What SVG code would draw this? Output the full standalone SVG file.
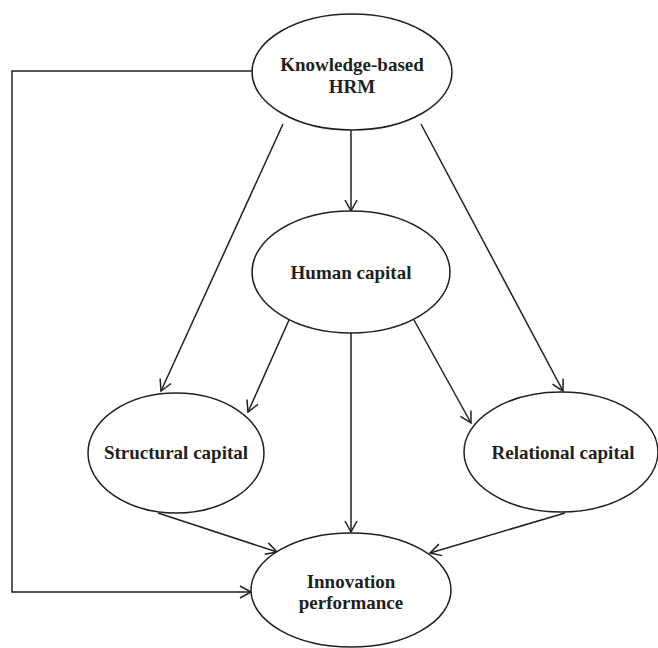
<svg xmlns="http://www.w3.org/2000/svg" width="658" height="648" viewBox="0 0 658 648">
<style>
.node ellipse{fill:#fff;stroke:#231f20;stroke-width:1.5}
.node text{font-family:"Liberation Serif","Times New Roman",serif;font-weight:bold;font-size:19px;fill:#231f20;text-anchor:middle}
.edges path,.edges line{fill:none;stroke:#231f20;stroke-width:1.5}
</style>
<defs>
<marker id="arr" viewBox="0 0 14 14" refX="12" refY="7" markerWidth="14" markerHeight="14" markerUnits="userSpaceOnUse" orient="auto">
<path d="M1,1 L12,7 L1,13" fill="none" stroke="#231f20" stroke-width="1.5"/>
</marker>
</defs>
<rect width="658" height="648" fill="#fff"/>
<g class="edges">
<line x1="351" y1="130" x2="351" y2="211" marker-end="url(#arr)"/>
<line x1="283" y1="124" x2="161" y2="391" marker-end="url(#arr)"/>
<line x1="421" y1="124" x2="563" y2="391" marker-end="url(#arr)"/>
<line x1="289" y1="320" x2="248" y2="412" marker-end="url(#arr)"/>
<line x1="414" y1="320" x2="471" y2="423" marker-end="url(#arr)"/>
<line x1="351" y1="333" x2="351" y2="532" marker-end="url(#arr)"/>
<line x1="158" y1="513" x2="277" y2="552" marker-end="url(#arr)"/>
<line x1="565" y1="513" x2="430" y2="553" marker-end="url(#arr)"/>
<path d="M253,71 H12 V592 H251" marker-end="url(#arr)"/>
</g>
<g id="kbhrm" class="node">
<ellipse cx="352" cy="72" rx="100" ry="58"/>
<text x="352" y="71">Knowledge-based</text>
<text x="352" y="93">HRM</text>
</g>
<g id="human" class="node">
<ellipse cx="351" cy="272" rx="99" ry="61"/>
<text x="351" y="279">Human capital</text>
</g>
<g id="structural" class="node">
<ellipse cx="176" cy="453" rx="88" ry="60"/>
<text x="176" y="459">Structural capital</text>
</g>
<g id="relational" class="node">
<ellipse cx="561" cy="452" rx="97" ry="60"/>
<text x="563" y="459">Relational capital</text>
</g>
<g id="innovation" class="node">
<ellipse cx="351" cy="590" rx="100" ry="57"/>
<text x="351" y="588">Innovation</text>
<text x="351" y="609">performance</text>
</g>
</svg>
